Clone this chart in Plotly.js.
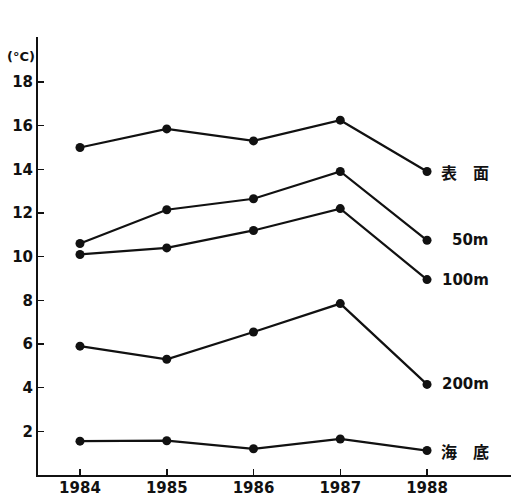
<!DOCTYPE html>
<html>
<head>
<meta charset="utf-8">
<script src="https://cdn.plot.ly/plotly-3.0.1.min.js"></script>
<style>
  html, body { margin: 0; padding: 0; background: #fff; }
  #chart { width: 511px; height: 497px; }
</style>
</head>
<body>
<div id="chart"></div>
<script>
// Annual water temperature (°C) at each depth, 1984–1988
const years = [1984, 1985, 1986, 1987, 1988];
const depthNames = ['表　面', '50m', '100m', '200m', '海　底'];
const surface = [15.0, 15.85, 15.3, 16.25, 13.9];
const depth50 = [10.6, 12.15, 12.65, 13.9, 10.75];
const depth100 = [10.1, 10.4, 11.2, 12.2, 8.95];
const depth200 = [5.9, 5.3, 6.55, 7.85, 4.15];
const seabed = [1.55, 1.57, 1.2, 1.65, 1.12];
const yTicks = [2, 4, 6, 8, 10, 12, 14, 16, 18];
const unitLabel = '(°C)';

const seriesValues = [surface, depth50, depth100, depth200, seabed];
const ink = '#111';

const traces = seriesValues.map((vals, i) => ({
  x: years,
  y: vals,
  name: depthNames[i],
  type: 'scatter',
  mode: 'lines+markers',
  line: { color: ink, width: 2.2 },
  marker: { color: ink, size: 9 },
  hoverinfo: 'skip'
}));

const labelFont = { family: 'DejaVu Sans, sans-serif', size: 15, color: ink, weight: 'bold' };
const cjkFont = { family: 'Noto Sans CJK JP, sans-serif', size: 16, color: ink, weight: 'bold' };

// End-of-line labels naming each depth
const annotations = seriesValues.map((vals, i) => ({
  x: years[years.length - 1],
  y: vals[vals.length - 1],
  xref: 'x', yref: 'y',
  text: depthNames[i],
  showarrow: false,
  xanchor: 'right',
  yanchor: 'middle',
  xshift: 64,
  font: /m$/.test(depthNames[i]) ? labelFont : cjkFont
}));

// Unit label above the temperature axis
annotations.push({
  x: 0, y: 1,
  xref: 'paper', yref: 'paper',
  text: unitLabel,
  showarrow: false,
  xanchor: 'right',
  yanchor: 'middle',
  xshift: -1,
  yshift: -19,
  font: { family: 'DejaVu Sans, sans-serif', size: 13, color: ink, weight: 'bold' }
});

const layout = {
  width: 511,
  height: 497,
  margin: { l: 38, r: 0, t: 37, b: 22 },
  paper_bgcolor: '#fff',
  plot_bgcolor: '#fff',
  showlegend: false,
  xaxis: {
    range: [1983.516, 1988.968],
    tickvals: years,
    ticktext: years.map(String),
    ticks: 'inside',
    ticklen: 6,
    tickwidth: 1.5,
    tickcolor: ink,
    showline: true,
    linecolor: ink,
    linewidth: 2,
    showgrid: false,
    zeroline: false,
    tickfont: labelFont,
    ticklabelstandoff: -2
  },
  yaxis: {
    range: [0, 20.06],
    tickvals: yTicks,
    ticktext: yTicks.map(String),
    ticks: 'inside',
    ticklen: 6,
    tickwidth: 1.5,
    tickcolor: ink,
    showline: true,
    linecolor: ink,
    linewidth: 2,
    showgrid: false,
    zeroline: false,
    tickfont: labelFont,
    ticklabelstandoff: 0
  },
  annotations: annotations
};

Plotly.newPlot('chart', traces, layout, { staticPlot: true, displayModeBar: false });
</script>
</body>
</html>
